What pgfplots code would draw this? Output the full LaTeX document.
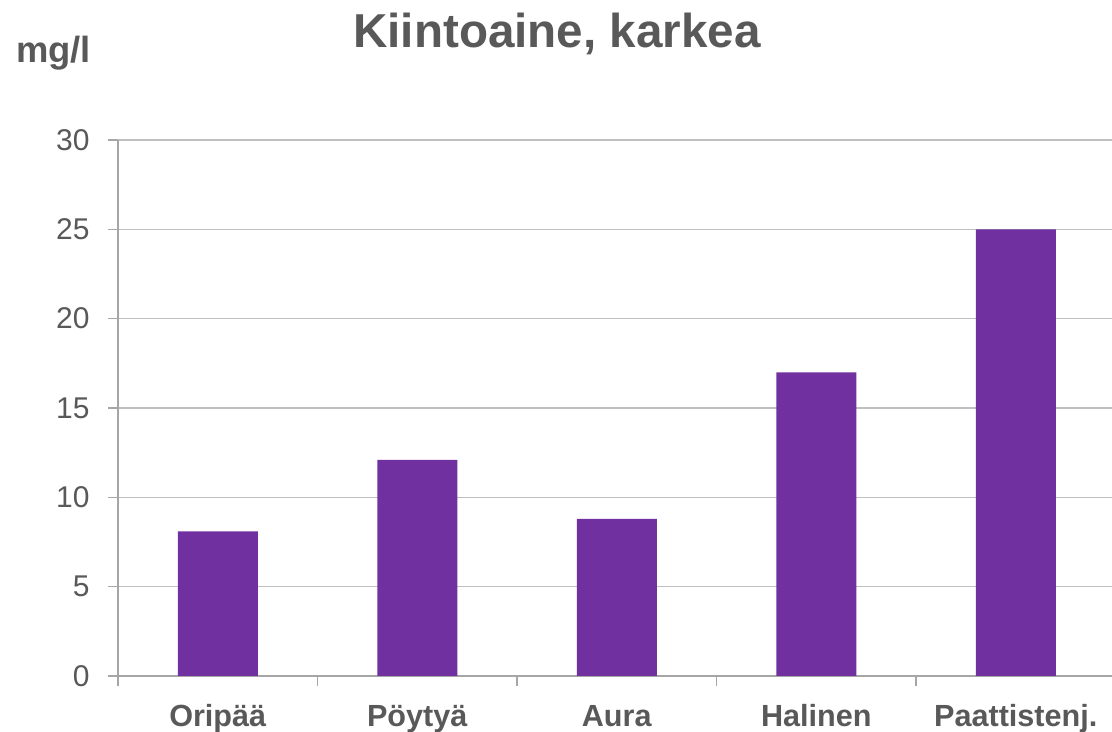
\documentclass[border=0pt]{standalone}
\usepackage{pgfplots}
\pgfplotsset{compat=1.18}
\usepackage{fontspec}
\setmainfont{Liberation Sans}
\definecolor{barpurple}{HTML}{7030A0}
\definecolor{txt}{HTML}{595959}
\definecolor{gridc}{HTML}{BFBFBF}
\definecolor{axc}{HTML}{A6A6A6}
\begin{document}
\begin{tikzpicture}
\path[use as bounding box] (0pt,0pt) rectangle (556pt,366pt);
\begin{axis}[
  at={(59pt,28pt)}, anchor=south west,
  scale only axis, width=498.75pt, height=268pt,
  xmin=-0.5, xmax=4.5, ymin=0, ymax=30,
  axis x line*=bottom, axis y line*=left,
  axis line style={draw=axc, line width=0.8pt, -},
  ytick={0,5,...,30},
  ymajorgrids, grid style={draw=gridc, line width=0.8pt},
  xtick={0,1,2,3,4},
  xticklabels={Oripää,Pöytyä,Aura,Halinen,Paattistenj.},
  minor xtick={-0.5,0.5,1.5,2.5,3.5,4.5},
  tick align=outside,
  major tick length=5pt, minor tick length=5pt,
  tick style={draw=axc, line width=0.8pt},
  major x tick style={draw=none},
  /pgf/number format/assume math mode=true,
  yticklabel style={font=\fontsize{15}{18}\selectfont, text=txt, anchor=east, inner sep=0pt, xshift=-9pt},
  xticklabel style={font=\bfseries\fontsize{15.3}{18}\selectfont, text=txt, anchor=base, inner sep=0pt, yshift=-20.5pt},
]
\addplot[ybar, bar width=40pt, bar shift=0pt, fill=barpurple, draw=none] coordinates {
  (0,8.1) (1,12.1) (2,8.8) (3,17.0) (4,25.0)
};
\end{axis}
\node[anchor=base, font=\bfseries\fontsize{23.8}{28}\selectfont, text=txt, inner sep=0pt] at (278.5pt,342pt) {Kiintoaine, karkea};
\node[anchor=base, font=\bfseries\fontsize{18.2}{22}\selectfont, text=txt, inner sep=0pt] at (26.75pt,334.5pt) {mg/l};
\end{tikzpicture}
\end{document}
